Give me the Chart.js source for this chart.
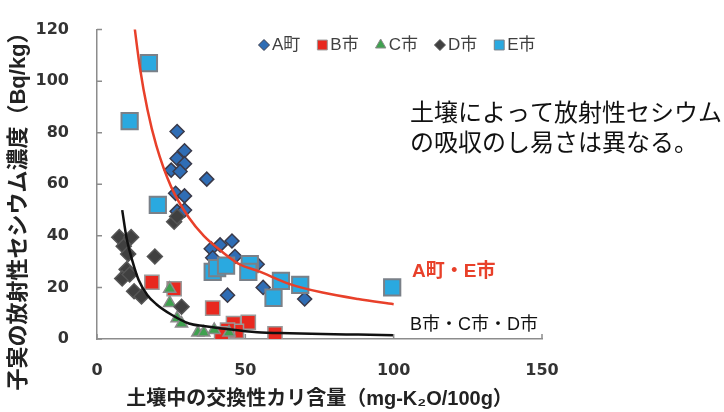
<!DOCTYPE html>
<html><head><meta charset="utf-8">
<script src="https://cdn.jsdelivr.net/npm/chart.js@4.4.1/dist/chart.umd.min.js"></script>
<style>html,body{margin:0;padding:0;background:#fff;}#wrap{width:724px;height:412px;}</style>
</head><body><div id="wrap"><canvas id="c" width="724" height="412"></canvas></div>
<script>
// ---- data ----
const seriesNames = ['A町', 'B市', 'C市', 'D市', 'E市'];
const aTown = [[27,80.5],[29.5,73],[27,70],[29.5,68],[25,65.5],[28,65],[37,62],[26.5,56.5],[29.5,55.5],[27,49.5],[29.5,50],[45.5,38],[38.5,35],[41.5,36.5],[46.5,32],[39,31.5],[54,29],[44,17],[56,20],[70,15.5]];
const bCity = [[18.5,22],[26,19.5],[39,12],[46,6],[51,6.5],[47,3],[44,3.5],[42,2],[60,2]];
const cCity = [[24.5,19.5],[24.5,14],[27,8],[28.5,6],[34,2.5],[36,2.5],[39.5,3.5],[44.5,2.5]];
const dCity = [[7.5,39.5],[11.5,39.5],[9,36],[10.5,33],[19.5,32],[10,27],[8.5,23.5],[11,25],[12.5,18.5],[15,16.5],[28.5,12.5],[26,45.5],[27,47.5]];
const eCity = [[17.5,107],[11,84.5],[20.5,52],[39,26],[40.5,27.5],[43.5,28.5],[51.5,29],[51,26],[62,22.5],[68.5,21],[59.5,16],[99.5,20]];
const redCurve = [[12,127],[14.5,105],[17,89],[20,75],[25,59],[31,47],[36,40],[42,34],[48,29],[54,26.5],[65,21.3],[76,18],[88,15.5],[100,13.5]];
const blackCurve = [[8.5,50],[10,39],[12,30],[14,23],[17,17],[20,13.5],[25,9.5],[31,6],[36,5],[42,4.1],[54,2.6],[65,2.2],[76,1.9],[88,1.7],[100,1.5]];
const xTickValues = [0, 50, 100, 150];
const yTickValues = [0, 20, 40, 60, 80, 100, 120];
const xTitle = '土壤中の交換性カリ含量（mg-K₂O/100g）';
const yTitle = '子実の放射性セシウム濃度（Bq/kg）';
const noteLines = ['土壌によって放射性セシウム', 'の吸収のし易さは異なる。'];
const curveLabels = ['A町・E市', 'B市・C市・D市'];

const toXY = arr => arr.map(p => ({x: p[0], y: p[1]}));
const FONT = '"Liberation Sans","Noto Sans CJK JP",sans-serif';
const NUMFONT = '"DejaVu Sans",sans-serif';

const extras = {
  id: 'extras',
  afterDraw(chart) {
    const ctx = chart.ctx;
    const xs = chart.scales.x, ys = chart.scales.y;
    const ca = chart.chartArea;
    ctx.save();
    // inward tick marks
    ctx.strokeStyle = '#8c8c8c';
    ctx.lineWidth = 1.5;
    ctx.beginPath();
    yTickValues.forEach(v => { const py = ys.getPixelForValue(v); ctx.moveTo(ca.left, py); ctx.lineTo(ca.left + 5, py); });
    xTickValues.forEach(v => { const px = xs.getPixelForValue(v); ctx.moveTo(px, ca.bottom); ctx.lineTo(px, ca.bottom - 5); });
    ctx.stroke();
    // y title
    ctx.fillStyle = '#222';
    ctx.font = 'bold 22px ' + FONT;
    ctx.textAlign = 'center';
    ctx.textBaseline = 'middle';
    ctx.translate(19, 206);
    ctx.rotate(-Math.PI / 2);
    ctx.fillText(yTitle, 0, 0);
    ctx.restore();
    ctx.save();
    // legend (markers styled from the datasets)
    ctx.textAlign = 'left';
    ctx.textBaseline = 'middle';
    ctx.font = '17px ' + FONT;
    let cx = 258;
    const ly = 45;
    const legendSizes = [5.5, 7, 6, 5.5, 7];
    seriesNames.forEach((name, i) => {
      const d = chart.data.datasets[i + 2];
      ctx.fillStyle = d.backgroundColor;
      ctx.strokeStyle = d.borderColor;
      ctx.lineWidth = 1;
      Chart.helpers.drawPoint(ctx, {pointStyle: d.pointStyle, radius: legendSizes[i], borderWidth: 1, rotation: 0}, cx + 6, ly);
      ctx.fillStyle = '#404040';
      ctx.fillText(name, cx + 14, ly);
      cx += 14 + ctx.measureText(name).width + 16;
    });
    // note text
    ctx.fillStyle = '#111';
    ctx.font = '24px "Noto Sans CJK JP",sans-serif';
    ctx.fillText(noteLines[0], 410, 112);
    ctx.fillText(noteLines[1], 410, 142);
    // curve labels
    ctx.fillStyle = '#e8402a';
    ctx.font = 'bold 19px ' + FONT;
    ctx.fillText(curveLabels[0], 412, 272);
    ctx.fillStyle = '#111';
    ctx.font = '18px ' + FONT;
    ctx.fillText(curveLabels[1], 410, 325);
    ctx.restore();
  }
};

const ds = [
  {label: 'redline', data: toXY(redCurve), showLine: true, borderColor: '#e8402a', borderWidth: 2.5, pointRadius: 0, cubicInterpolationMode: 'monotone', order: 0},
  {label: 'blackline', data: toXY(blackCurve), showLine: true, borderColor: '#111', borderWidth: 2.5, pointRadius: 0, cubicInterpolationMode: 'monotone', order: 0},
  {label: seriesNames[0], data: toXY(aTown), pointStyle: 'rectRot', pointRadius: 7, backgroundColor: '#2f6db5', borderColor: '#3a3a4a', borderWidth: 1.5, order: 5},
  {label: seriesNames[1], data: toXY(bCity), pointStyle: 'rect', pointRadius: 10, backgroundColor: '#e8281f', borderColor: '#9a9a9a', borderWidth: 1.5, order: 4},
  {label: seriesNames[2], data: toXY(cCity), pointStyle: 'triangle', pointRadius: 7, backgroundColor: '#3fa14f', borderColor: '#8a8a8a', borderWidth: 1.5, order: 3},
  {label: seriesNames[3], data: toXY(dCity), pointStyle: 'rectRot', pointRadius: 7.5, backgroundColor: '#404040', borderColor: '#555', borderWidth: 1.5, order: 2},
  {label: seriesNames[4], data: toXY(eCity), pointStyle: 'rect', pointRadius: 11.5, backgroundColor: '#2aa9e0', borderColor: '#7a8088', borderWidth: 2, order: 1}
];

new Chart(document.getElementById('c'), {
  type: 'scatter',
  data: {datasets: ds},
  options: {
    responsive: false,
    animation: false,
    devicePixelRatio: 1,
    layout: {padding: {left: 0, top: 18, right: 182, bottom: 0}},
    plugins: {
      tooltip: {enabled: false},
      legend: {display: false}
    },
    scales: {
      x: {
        type: 'linear', min: 0, max: 150,
        afterFit: s => { s.height = 73; },
        afterBuildTicks: s => { s.ticks = xTickValues.map(v => ({value: v})); },
        grid: {display: false},
        border: {display: true, color: '#8c8c8c', width: 1.5},
        ticks: {padding: 14, color: '#333', font: {size: 16, weight: 'bold', family: NUMFONT}},
        title: {display: true, text: xTitle, color: '#222', font: {size: 20, weight: 'bold', family: FONT}, padding: {top: 0, bottom: 1}}
      },
      y: {
        type: 'linear', min: 0, max: 120,
        afterFit: s => { s.width = 97; },
        afterBuildTicks: s => { s.ticks = yTickValues.map(v => ({value: v})); },
        grid: {display: false},
        border: {display: true, color: '#8c8c8c', width: 1.5},
        ticks: {padding: 20, color: '#333', font: {size: 16, weight: 'bold', family: NUMFONT}},
        title: {display: false}
      }
    }
  },
  plugins: [extras]
});
</script>
</body></html>
